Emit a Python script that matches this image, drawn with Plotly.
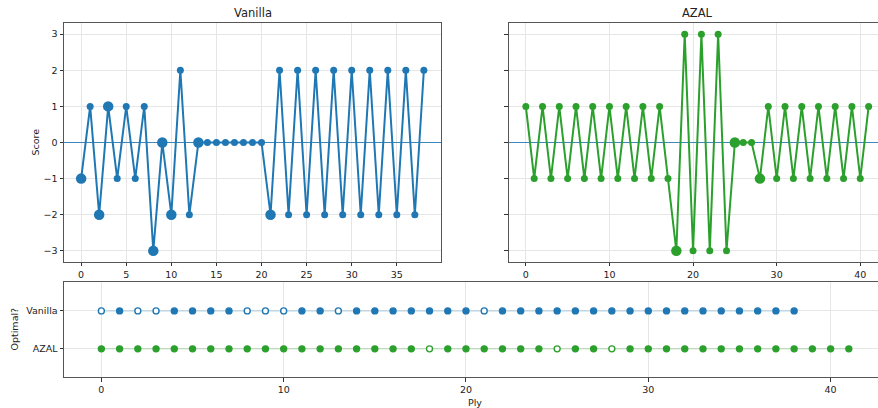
import plotly.graph_objects as go

W, H = 878, 408

# ---- data ----
vanilla_ply = list(range(39))
vanilla_score = [-1, 1, -2, 1, -1, 1, -1, 1, -3, 0, -2, 2, -2, 0, 0, 0, 0, 0, 0, 0, 0,
                 -2, 2, -2, 2, -2, 2, -2, 2, -2, 2, -2, 2, -2, 2, -2, 2, -2, 2]
vanilla_optimal = [False, True, False, False, True, True, True, True, False, False, False,
                   True, True, False, True, True, True, True, True, True, True, False,
                   True, True, True, True, True, True, True, True, True, True, True, True,
                   True, True, True, True, True]

azal_ply = list(range(42))
azal_score = [1, -1, 1, -1, 1, -1, 1, -1, 1, -1, 1, -1, 1, -1, 1, -1, 1, -1,
              -3, 3, -3, 3, -3, 3, -3, 0, 0, 0, -1,
              1, -1, 1, -1, 1, -1, 1, -1, 1, -1, 1, -1, 1]
azal_optimal = [True] * 18 + [False] + [True] * 6 + [False, True, True, False] + [True] * 13

series_names = ["Vanilla", "AZAL"]
row_labels = ["AZAL", "Vanilla"]
left_xticks = [0, 5, 10, 15, 20, 25, 30, 35]
right_xticks = [0, 10, 20, 30, 40]
score_ticks = [-3, -2, -1, 0, 1, 2, 3]

BLUE = "#1f77b4"
GREEN = "#2ca02c"
FONT = "DejaVu Sans"
GRID = "#e6e6e6"
SPINE = "#555555"


def px(x):
    return x / W


def py(y):
    return 1 - y / H


fig = go.Figure()

# zero lines (drawn first, under the data)
fig.add_trace(go.Scatter(x=[-1.9, 39.9], y=[0, 0], mode="lines", xaxis="x", yaxis="y",
                         line=dict(color=BLUE, width=1.2), opacity=0.85,
                         showlegend=False, hoverinfo="skip"))
fig.add_trace(go.Scatter(x=[-2.05, 43.05], y=[0, 0], mode="lines", xaxis="x2", yaxis="y2",
                         line=dict(color=BLUE, width=1.2), opacity=0.85,
                         showlegend=False, hoverinfo="skip"))

# top panels
for ply, score, opt, color, xa, ya in [
    (vanilla_ply, vanilla_score, vanilla_optimal, BLUE, "x", "y"),
    (azal_ply, azal_score, azal_optimal, GREEN, "x2", "y2"),
]:
    fig.add_trace(go.Scatter(
        x=ply, y=score, mode="lines+markers", xaxis=xa, yaxis=ya,
        line=dict(color=color, width=2),
        marker=dict(color=color, size=[7 if o else 10.5 for o in opt],
                    opacity=1, line=dict(width=0)),
        showlegend=False, hoverinfo="skip"))

# bottom panel
for ply, opt, color, yv in [
    (vanilla_ply, vanilla_optimal, BLUE, 1),
    (azal_ply, azal_optimal, GREEN, 0),
]:
    fig.add_trace(go.Scatter(
        x=ply, y=[yv] * len(ply), mode="lines", xaxis="x3", yaxis="y3",
        line=dict(color=color, width=1.5), opacity=0.2,
        showlegend=False, hoverinfo="skip"))
    fig.add_trace(go.Scatter(
        x=ply, y=[yv] * len(ply), mode="markers", xaxis="x3", yaxis="y3",
        marker=dict(size=6, opacity=1, color=[color if o else "white" for o in opt],
                    line=dict(color=color, width=1.4)),
        showlegend=False, hoverinfo="skip"))

tickfont = dict(family=FONT, size=9.5, color="#222")
common = dict(showline=True, linecolor=SPINE, linewidth=1, ticks="outside",
              ticklen=3.5, tickcolor="#333", tickwidth=0.8, showgrid=True,
              gridcolor=GRID, gridwidth=0.8, zeroline=False, tickfont=tickfont)

top_dom = [py(261.7), py(23.3)]
bot_dom = [py(377.3), py(281.7)]

fig.update_layout(
    width=W, height=H, margin=dict(l=0, r=0, t=0, b=0),
    paper_bgcolor="white", plot_bgcolor="white",
    font=dict(family=FONT, color="#222"),
    xaxis=dict(domain=[px(64), px(441)], range=[-1.9, 39.9], tickvals=left_xticks,
               mirror=True, anchor="y", **common),
    yaxis=dict(domain=top_dom, range=[-3.3, 3.3], tickvals=score_ticks,
               mirror=True, anchor="x", **common),
    xaxis2=dict(domain=[px(508.7), 1], range=[-2.05, 42.12], tickvals=right_xticks,
                mirror=True, anchor="y2", **common),
    yaxis2=dict(domain=top_dom, range=[-3.3, 3.3], tickvals=score_ticks,
                showticklabels=False, mirror=False, anchor="x2", **common),
    xaxis3=dict(domain=[px(64), 1], range=[-2.05, 42.6], tickvals=right_xticks,
                mirror=True, anchor="y3", **common),
    yaxis3=dict(domain=bot_dom, range=[-0.75, 1.77], tickvals=[0, 1],
                ticktext=row_labels, mirror=False, anchor="x3", **common),
)


def label(text, x, y, size=9.5, angle=0):
    return dict(text=text, x=px(x), y=py(y), xref="paper", yref="paper",
                xanchor="center", yanchor="middle", showarrow=False, textangle=angle,
                font=dict(family=FONT, size=size, color="#222"))


fig.update_layout(annotations=[
    label(series_names[0], 252.5, 13, size=11.5),
    label(series_names[1], 697, 13, size=11.5),
    label("Score", 35, 142.5, angle=-90),
    label("Optimal?", 14, 329.5, angle=-90),
    label("Ply", 475, 402),
])

fig.write_html(
    "out.html",
    config={"displayModeBar": False},
    post_script="document.body.style.margin='0';document.body.style.padding='0';"
                "document.documentElement.style.overflow='hidden';",
)
